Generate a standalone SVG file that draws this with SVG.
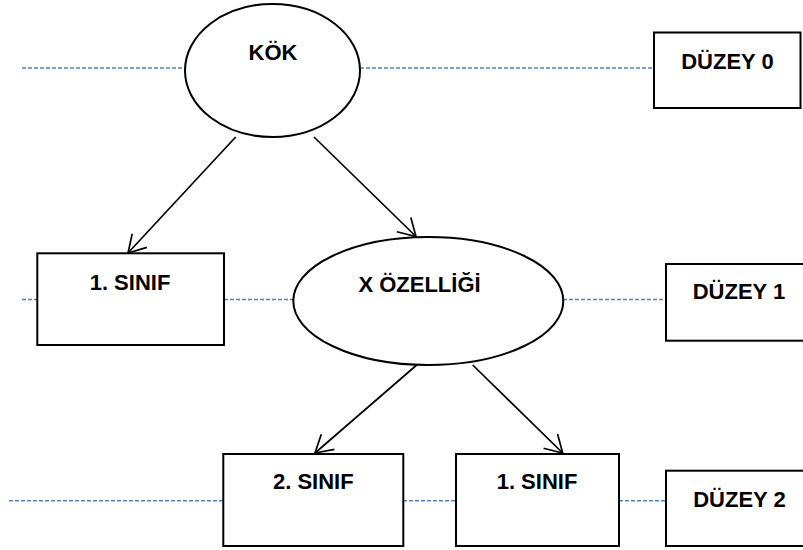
<svg xmlns="http://www.w3.org/2000/svg" width="803" height="550" viewBox="0 0 803 550">
<style>
.bg{fill:#ffffff}
.lvl{stroke:#4F81BD;stroke-width:1.6;stroke-dasharray:4 2;fill:none}
.shape{fill:#ffffff;stroke:#000000;stroke-width:2}
.conn{stroke:#000000;stroke-width:1.7;fill:none}
.lbl{font-family:"Liberation Sans",Arial,sans-serif;font-weight:bold;font-size:22px;fill:#000000;text-anchor:middle}
</style>
<defs>
<marker id="arr" markerUnits="userSpaceOnUse" markerWidth="44" markerHeight="44" viewBox="-22 -22 44 44" refX="0" refY="0" orient="auto" overflow="visible">
<path d="M-17,-10 L0,0 L-17,10" fill="none" stroke="#000000" stroke-width="1.7"/>
</marker>
</defs>
<rect class="bg" x="0" y="0" width="803" height="550"/>
<g id="level-lines">
<line class="lvl" x1="22" y1="68" x2="185" y2="68"/>
<line class="lvl" x1="360" y1="68" x2="654" y2="68"/>
<line class="lvl" x1="22" y1="299.5" x2="37" y2="299.5"/>
<line class="lvl" x1="224" y1="299.5" x2="293" y2="299.5"/>
<line class="lvl" x1="563" y1="299.5" x2="666" y2="299.5"/>
<line class="lvl" x1="9" y1="500.7" x2="223" y2="500.7"/>
<line class="lvl" x1="403" y1="500.7" x2="456" y2="500.7"/>
<line class="lvl" x1="619" y1="500.7" x2="666" y2="500.7"/>
</g>
<g id="connectors">
<line class="conn" x1="235.7" y1="137" x2="128" y2="253" marker-end="url(#arr)"/>
<line class="conn" x1="314" y1="137" x2="416" y2="236.5" marker-end="url(#arr)"/>
<line class="conn" x1="416.7" y1="365" x2="315" y2="453" marker-end="url(#arr)"/>
<line class="conn" x1="472.7" y1="365" x2="562.7" y2="453" marker-end="url(#arr)"/>
</g>
<g id="node-kok">
<ellipse class="shape" cx="272.5" cy="70.5" rx="87.5" ry="66.5"/>
<text class="lbl" x="273" y="60">KÖK</text>
</g>
<g id="node-duzey0">
<rect class="shape" x="654" y="32.5" width="146.5" height="75.5"/>
<text class="lbl" x="727.5" y="69">DÜZEY 0</text>
</g>
<g id="node-sinif1-l1">
<rect class="shape" x="37.3" y="253.3" width="186.7" height="91.7"/>
<text class="lbl" x="130" y="290">1. SINIF</text>
</g>
<g id="node-xozelligi">
<ellipse class="shape" cx="428.3" cy="301" rx="135" ry="64"/>
<text class="lbl" x="419.5" y="291.5">X ÖZELLİĞİ</text>
</g>
<g id="node-duzey1">
<rect class="shape" x="666" y="264" width="150" height="76.7"/>
<text class="lbl" x="739" y="299">DÜZEY 1</text>
</g>
<g id="node-sinif2">
<rect class="shape" x="223.3" y="454" width="180" height="92"/>
<text class="lbl" x="313.3" y="489">2. SINIF</text>
</g>
<g id="node-sinif1-l2">
<rect class="shape" x="456" y="454" width="163" height="92"/>
<text class="lbl" x="537" y="489">1. SINIF</text>
</g>
<g id="node-duzey2">
<rect class="shape" x="666" y="470.7" width="150" height="75.3"/>
<text class="lbl" x="739.5" y="506.5">DÜZEY 2</text>
</g>
</svg>
